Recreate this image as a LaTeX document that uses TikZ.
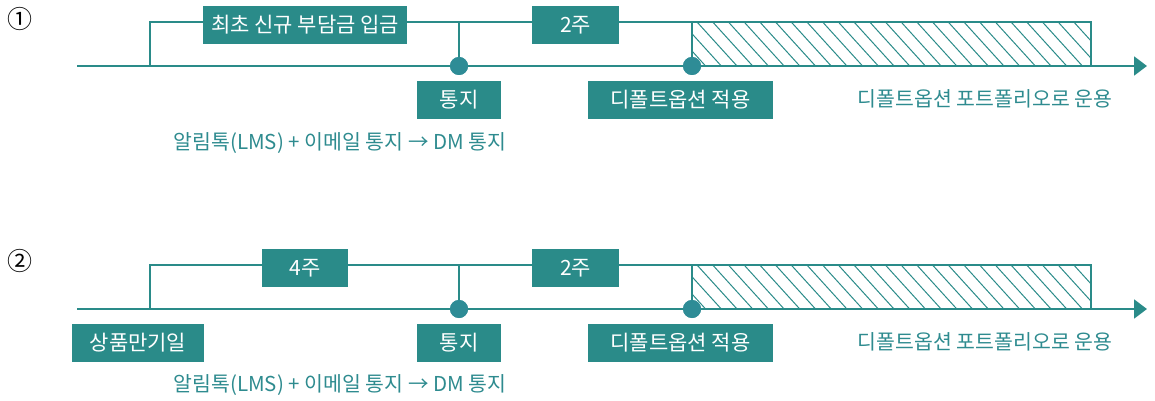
\documentclass[tikz,border=0pt]{standalone}
\usepackage{fontspec}
\setmainfont{Noto Sans CJK KR}
\usetikzlibrary{arrows.meta}

\definecolor{tealbox}{RGB}{42,139,137}
\definecolor{tealtext}{RGB}{46,139,143}
\definecolor{dotcol}{RGB}{46,140,150}

\tikzset{
  tag/.style={fill=tealbox, text=white, inner sep=0pt, minimum height=38pt,
    font=\fontsize{21}{21}\selectfont},
  note/.style={text=tealtext, inner sep=0pt, font=\fontsize{20.5}{21}\selectfont},
  timeline/.style={draw=tealbox, line width=2pt, -{Triangle[length=13pt,width=19pt]}},
  bracket/.style={draw=tealbox, line width=1.3pt},
  event/.style={circle, fill=dotcol, minimum size=18pt, inner sep=0pt},
  hatch/.style={draw=tealbox, line width=1pt},
}

\begin{document}
\begin{tikzpicture}[x=1pt,y=-1pt]
      \useasboundingbox (0,0) rectangle (1155,401);

      % case 1
      \node[inner sep=0pt, font=\fontsize{25}{25}\selectfont] (numA) at (20,19) {①};
      \coordinate (startA) at (77,66);
      \coordinate (endA) at (1147,66);
      \coordinate (openA) at (150,66);
      \coordinate (hatchA) at (692,22);
      \coordinate (hatchEndA) at (1091,66);
      \draw[bracket] (openA) |- (hatchA);
      \draw[bracket] (hatchA) rectangle (hatchEndA);
      \begin{scope}
        \clip (hatchA) rectangle (hatchEndA);
        \foreach \i in {-3,...,25}
          \draw[hatch] (697+15.7*\i,22) -- ++(40,44);
      \end{scope}
      \node[tag, minimum width=204pt] (depositA) at (305,25) {최초 신규 부담금 입금};
      \node[tag, minimum width=87pt] (waitA) at (575.5,25) {2주};
      \node[event] (noticeA) at (459,66) {};
      \node[event] (applyA) at (692,66) {};
      \draw[bracket] (noticeA) -- (noticeA |- hatchA);
      \draw[bracket] (applyA) -- (hatchA);
      \draw[timeline] (startA) -- (noticeA) -- (applyA) -- (endA);
      \node[event] at (noticeA) {};
      \node[event] at (applyA) {};
      \node[tag, minimum width=84pt] (noticeTagA) at (459,100) {통지};
      \node[tag, minimum width=185pt] (applyTagA) at (680.5,100) {디폴트옵션 적용};
      \node[note] (channelA) at (340,143) {알림톡(LMS) + 이메일 통지 → DM 통지};
      \node[note] (runA) at (985,99) {디폴트옵션 포트폴리오로 운용};

      % case 2
      \node[inner sep=0pt, font=\fontsize{25}{25}\selectfont] (numB) at (20,261) {②};
      \coordinate (startB) at (77,309);
      \coordinate (endB) at (1147,309);
      \coordinate (openB) at (150,309);
      \coordinate (hatchB) at (692,265);
      \coordinate (hatchEndB) at (1091,309);
      \draw[bracket] (openB) |- (hatchB);
      \draw[bracket] (hatchB) rectangle (hatchEndB);
      \begin{scope}
        \clip (hatchB) rectangle (hatchEndB);
        \foreach \i in {-3,...,25}
          \draw[hatch] (697+15.7*\i,265) -- ++(40,44);
      \end{scope}
      \node[tag, minimum width=86pt] (maturityWaitB) at (305,268) {4주};
      \node[tag, minimum width=87pt] (waitB) at (575.5,268) {2주};
      \node[event] (noticeB) at (459,309) {};
      \node[event] (applyB) at (692,309) {};
      \draw[bracket] (noticeB) -- (noticeB |- hatchB);
      \draw[bracket] (applyB) -- (hatchB);
      \draw[timeline] (startB) -- (noticeB) -- (applyB) -- (endB);
      \node[event] at (noticeB) {};
      \node[event] at (applyB) {};
      \node[tag, minimum width=132pt] (maturityB) at (138,343) {상품만기일};
      \node[tag, minimum width=84pt] (noticeTagB) at (459,343) {통지};
      \node[tag, minimum width=185pt] (applyTagB) at (680.5,343) {디폴트옵션 적용};
      \node[note] (channelB) at (340,385) {알림톡(LMS) + 이메일 통지 → DM 통지};
      \node[note] (runB) at (985,342) {디폴트옵션 포트폴리오로 운용};
\end{tikzpicture}
\end{document}
